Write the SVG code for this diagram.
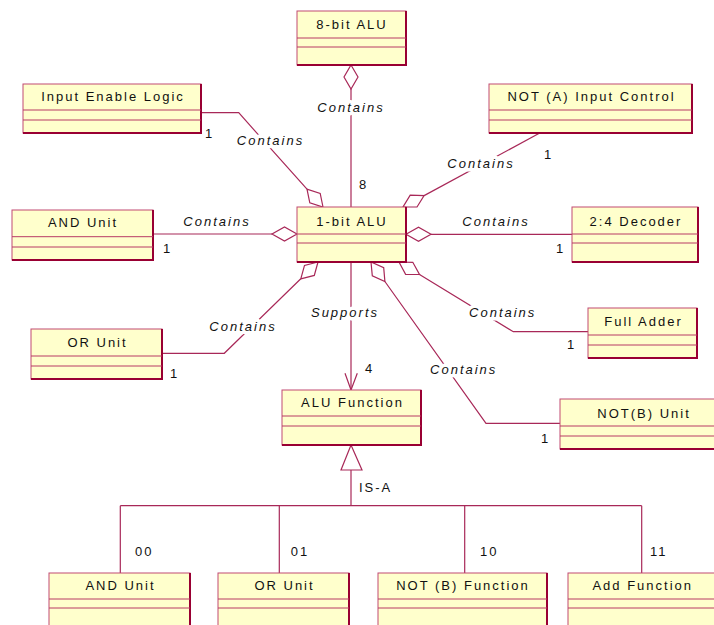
<svg xmlns="http://www.w3.org/2000/svg" width="714" height="625" viewBox="0 0 714 625">
<style>
.box{fill:#FFFFCC;stroke:#C24A72;stroke-width:1}
.sh{stroke:#990033;stroke-width:2;fill:none}
.cmp{stroke:#B83A64;stroke-width:1}
.name{font-family:"Liberation Sans",Arial,sans-serif;font-size:13px;letter-spacing:2px;fill:#111;text-anchor:middle}
.lbl{font-family:"Liberation Sans",Arial,sans-serif;font-size:13px;font-style:italic;letter-spacing:2px;fill:#111;text-anchor:middle;stroke:#fff;stroke-width:7;stroke-linejoin:round;paint-order:stroke}
.mult{font-family:"Liberation Sans",Arial,sans-serif;font-size:13px;letter-spacing:2px;fill:#111}
.ln{stroke:#A82858;stroke-width:1.2;fill:none}
.dia{fill:#fff;stroke:#A82858;stroke-width:1.2}
</style>
<rect width="714" height="625" fill="#fff"/>
<g id="connectors">
  <!-- 8-bit ALU aggregation -->
  <line class="ln" x1="351" y1="89" x2="351" y2="207"/>
  <polygon class="dia" points="351,65 358,77 351,89 344,77"/>
  <!-- Input Enable Logic -->
  <polyline class="ln" points="201,112.7 238.7,112.7 307,189.1"/>
  <polygon class="dia" points="323,207 320.2,193.4 307,189.1 309.8,202.8"/>
  <!-- NOT (A) Input Control -->
  <polyline class="ln" points="539.3,133.3 424.1,195.6"/>
  <polygon class="dia" points="403,207 417,207 424.1,195.6 410.2,195.1"/>
  <!-- 2:4 Decoder -->
  <line class="ln" x1="431" y1="234.3" x2="572" y2="234.3"/>
  <polygon class="dia" points="406,234.3 418.5,227.3 431,234.3 418.5,241.3"/>
  <!-- AND Unit -->
  <line class="ln" x1="153" y1="234" x2="272" y2="234"/>
  <polygon class="dia" points="297,234 284.5,227 272,234 284.5,241"/>
  <!-- OR Unit -->
  <polyline class="ln" points="162,353.3 224.3,353.3 300.8,278.8"/>
  <polygon class="dia" points="318,262 314.3,275.4 300.8,278.8 304.5,265.4"/>
  <!-- Full Adder -->
  <polyline class="ln" points="588,331.7 513.3,331.7 419.5,274.5"/>
  <polygon class="dia" points="399,262 405.6,274.3 419.5,274.5 412.8,262.3"/>
  <!-- NOT(B) Unit -->
  <polyline class="ln" points="560,423.3 486,423.3 384.9,281.5"/>
  <polygon class="dia" points="371,262 372.3,275.9 384.9,281.5 383.7,267.7"/>
  <!-- Supports -->
  <line class="ln" x1="351" y1="262" x2="351" y2="390"/>
  <polyline class="ln" points="345,373.3 351,390 357.3,373.3"/>
  <!-- IS-A generalization -->
  <polyline class="ln" points="351,470 351,505.7"/>
  <line class="ln" x1="120.3" y1="505.7" x2="641.7" y2="505.7"/>
  <line class="ln" x1="120.3" y1="505.7" x2="120.3" y2="573"/>
  <line class="ln" x1="279.3" y1="505.7" x2="279.3" y2="573"/>
  <line class="ln" x1="464.7" y1="505.7" x2="464.7" y2="573"/>
  <line class="ln" x1="641.7" y1="505.7" x2="641.7" y2="573"/>
  <polygon class="dia" points="351,445 362,470 341,470"/>
  <!-- labels -->
  <text class="lbl" x="351" y="112">Contains</text>
  <text class="lbl" x="270.5" y="145">Contains</text>
  <text class="lbl" x="481" y="167.7">Contains</text>
  <text class="lbl" x="496" y="225.7">Contains</text>
  <text class="lbl" x="217" y="225.7">Contains</text>
  <text class="lbl" x="243" y="331">Contains</text>
  <text class="lbl" x="502.7" y="317.3">Contains</text>
  <text class="lbl" x="463.7" y="374">Contains</text>
  <text class="lbl" x="345" y="316.7">Supports</text>
  <text class="mult" x="359" y="189.3">8</text>
  <text class="mult" x="205" y="138">1</text>
  <text class="mult" x="544" y="159">1</text>
  <text class="mult" x="556" y="253">1</text>
  <text class="mult" x="163" y="253.3">1</text>
  <text class="mult" x="170" y="378.3">1</text>
  <text class="mult" x="567" y="349.3">1</text>
  <text class="mult" x="541" y="443.3">1</text>
  <text class="mult" x="365" y="372.7">4</text>
  <text class="mult" x="359" y="491.7">IS-A</text>
  <text class="mult" x="135" y="556">00</text>
  <text class="mult" x="290.7" y="556">01</text>
  <text class="mult" x="480" y="556">10</text>
  <text class="mult" x="650" y="556">11</text>
</g>
<g id="alu8">
  <rect class="box" x="297" y="11" width="109" height="54"/>
  <polyline class="sh" points="297,65 406,65 406,11"/>
  <line class="cmp" x1="297" y1="38" x2="406" y2="38"/><line class="cmp" x1="297" y1="47" x2="406" y2="47"/>
  <text class="name" x="352" y="29">8-bit ALU</text>
</g>
<g id="inputEnable">
  <rect class="box" x="23" y="84" width="178" height="49"/>
  <polyline class="sh" points="23,133 201,133 201,84"/>
  <line class="cmp" x1="23" y1="110" x2="201" y2="110"/><line class="cmp" x1="23" y1="120" x2="201" y2="120"/>
  <text class="name" x="113" y="101">Input Enable Logic</text>
</g>
<g id="notA">
  <rect class="box" x="489" y="84" width="203" height="49"/>
  <polyline class="sh" points="489,133 692,133 692,84"/>
  <line class="cmp" x1="489" y1="110" x2="692" y2="110"/><line class="cmp" x1="489" y1="120" x2="692" y2="120"/>
  <text class="name" x="591.5" y="101">NOT (A) Input Control</text>
</g>
<g id="alu1">
  <rect class="box" x="297" y="207" width="109" height="55"/>
  <polyline class="sh" points="297,262 406,262 406,207"/>
  <line class="cmp" x1="297" y1="234" x2="406" y2="234"/><line class="cmp" x1="297" y1="243" x2="406" y2="243"/>
  <text class="name" x="352" y="226">1-bit ALU</text>
</g>
<g id="andUnit">
  <rect class="box" x="12" y="210" width="141" height="50"/>
  <polyline class="sh" points="12,260 153,260 153,210"/>
  <line class="cmp" x1="12" y1="236.7" x2="153" y2="236.7"/><line class="cmp" x1="12" y1="247" x2="153" y2="247"/>
  <text class="name" x="83" y="226.7">AND Unit</text>
</g>
<g id="decoder">
  <rect class="box" x="572" y="207" width="126" height="55"/>
  <polyline class="sh" points="572,262 698,262 698,207"/>
  <line class="cmp" x1="572" y1="234" x2="698" y2="234"/><line class="cmp" x1="572" y1="243" x2="698" y2="243"/>
  <text class="name" x="636" y="226">2:4 Decoder</text>
</g>
<g id="orUnit">
  <rect class="box" x="31" y="329" width="131" height="50"/>
  <polyline class="sh" points="31,379 162,379 162,329"/>
  <line class="cmp" x1="31" y1="356" x2="162" y2="356"/><line class="cmp" x1="31" y1="366" x2="162" y2="366"/>
  <text class="name" x="97.5" y="347">OR Unit</text>
</g>
<g id="fullAdder">
  <rect class="box" x="588" y="308" width="109" height="50"/>
  <polyline class="sh" points="588,358 697,358 697,308"/>
  <line class="cmp" x1="588" y1="335" x2="697" y2="335"/><line class="cmp" x1="588" y1="345" x2="697" y2="345"/>
  <text class="name" x="643.5" y="326">Full Adder</text>
</g>
<g id="notBUnit">
  <rect class="box" x="560" y="399" width="170" height="50"/>
  <polyline class="sh" points="560,449 730,449"/>
  <line class="cmp" x1="560" y1="426" x2="730" y2="426"/><line class="cmp" x1="560" y1="436" x2="730" y2="436"/>
  <text class="name" x="644" y="418">NOT(B) Unit</text>
</g>
<g id="aluFunction">
  <rect class="box" x="282" y="390" width="139" height="55"/>
  <polyline class="sh" points="282,445 421,445 421,390"/>
  <line class="cmp" x1="282" y1="416" x2="421" y2="416"/><line class="cmp" x1="282" y1="426" x2="421" y2="426"/>
  <text class="name" x="352.5" y="407">ALU Function</text>
</g>
<g id="andFunc">
  <rect class="box" x="49" y="573" width="141" height="70"/>
  <line class="sh" x1="190" y1="573" x2="190" y2="630"/>
  <line class="cmp" x1="49" y1="599" x2="190" y2="599"/><line class="cmp" x1="49" y1="608" x2="190" y2="608"/>
  <text class="name" x="120.5" y="590">AND Unit</text>
</g>
<g id="orFunc">
  <rect class="box" x="218" y="573" width="131" height="70"/>
  <line class="sh" x1="349" y1="573" x2="349" y2="630"/>
  <line class="cmp" x1="218" y1="599" x2="349" y2="599"/><line class="cmp" x1="218" y1="608" x2="349" y2="608"/>
  <text class="name" x="284.5" y="590">OR Unit</text>
</g>
<g id="notBFunc">
  <rect class="box" x="378" y="573" width="169" height="70"/>
  <line class="sh" x1="547" y1="573" x2="547" y2="630"/>
  <line class="cmp" x1="378" y1="599" x2="547" y2="599"/><line class="cmp" x1="378" y1="608" x2="547" y2="608"/>
  <text class="name" x="463" y="590">NOT (B) Function</text>
</g>
<g id="addFunc">
  <rect class="box" x="568" y="573" width="170" height="70"/>
  <line class="cmp" x1="568" y1="599" x2="738" y2="599"/><line class="cmp" x1="568" y1="608" x2="738" y2="608"/>
  <text class="name" x="642.7" y="590">Add Function</text>
</g>
</svg>
